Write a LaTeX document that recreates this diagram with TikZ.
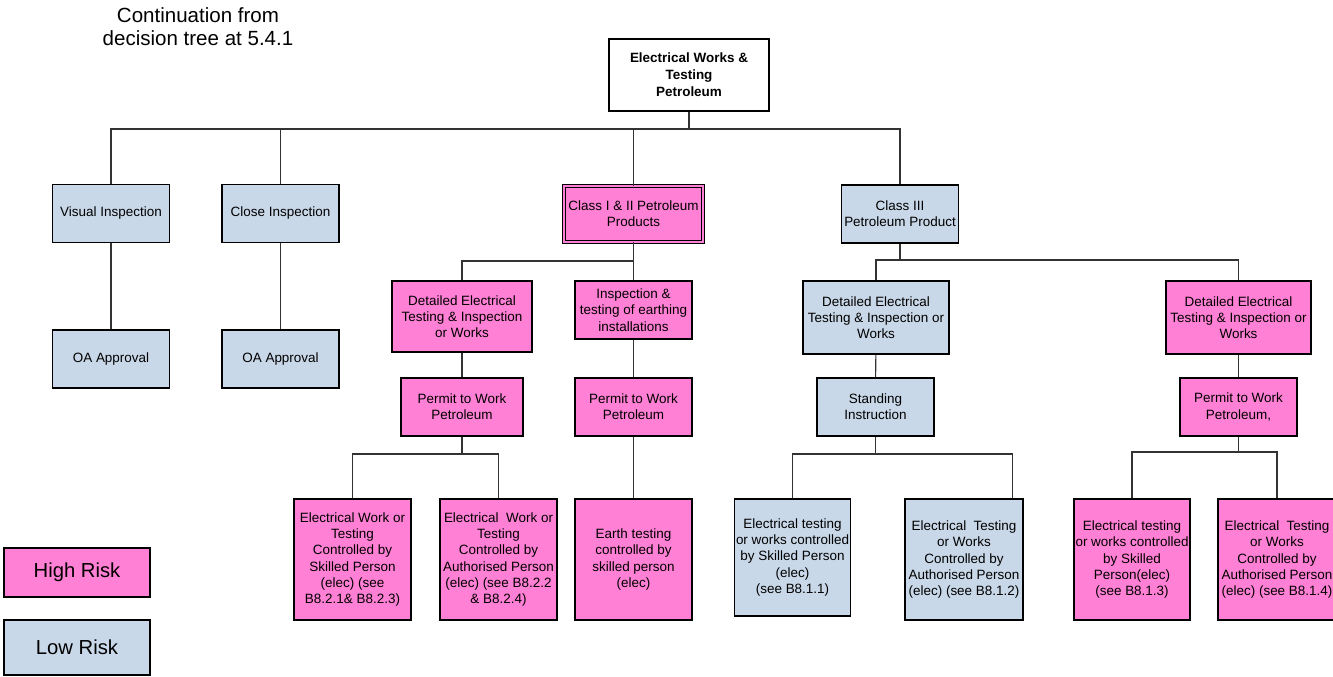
\documentclass[tikz,border=0pt]{standalone}
\usepackage{fontspec}
\setmainfont{Liberation Sans}
\usepackage{tikz}
\usetikzlibrary{calc}
\definecolor{hirisk}{RGB}{255,128,212}
\definecolor{lorisk}{RGB}{201,216,232}
\tikzset{
  box/.style={draw, line width=0.9pt, align=center, inner sep=1pt},
  high/.style={box, fill=hirisk},
  low/.style={box, fill=lorisk},
  sbox/.style={minimum width=87.75pt, minimum height=43.5pt},
  tbox/.style={minimum width=87.75pt, minimum height=90.75pt},
  link/.style={draw=black!80, line width=0.8pt},
}

\begin{document}
\begin{tikzpicture}[x=0.75pt, y=-0.75pt, font=\fontsize{10.1}{12.2}\selectfont]
\useasboundingbox (0,0) rectangle (1333,676);

% title and legend
\node (title) [align=center, font=\fontsize{15.4}{17.25}\selectfont] at (198,27) {Continuation from\\decision tree at 5.4.1};
\node (hi) [high, minimum width=109.5pt, minimum height=36.75pt, font=\fontsize{15.2}{18}\selectfont] at (77,572.5) {High Risk};
\node (lo) [low, minimum width=109.5pt, minimum height=41.25pt, font=\fontsize{15.2}{18}\selectfont] at (77,647.5) {Low Risk};

% top of tree
\node (top) [box, fill=white, minimum width=120pt, minimum height=54pt, font=\fontsize{10.1}{12.75}\selectfont\bfseries] at (689,75) {Electrical Works \&\\Testing\\Petroleum};
\node (vis)  [low, sbox] at (111,213.5) {Visual Inspection};
\node (clo)  [low, sbox] at (280.5,213.5) {Close Inspection};
\node (oa1)  [low, sbox] at (111,359) {OA Approval};
\node (oa2)  [low, sbox] at (280.5,359) {OA Approval};
\node (cls12)[high, sbox, minimum width=104pt, minimum height=41.5pt, double=hirisk, double distance=1.4pt, line width=0.75pt, inner sep=0pt] at (633.5,214) {Class I \& II Petroleum\\Products};
\node (cls3) [low, sbox] at (900,214) {Class III\\Petroleum Product};

% class I & II branch
\node (detA) [high, minimum width=105pt, minimum height=53.25pt] at (462,316.5) {Detailed Electrical\\Testing \& Inspection\\or Works};
\node (insp) [high, sbox] at (633.5,310) {Inspection \&\\testing of earthing\\installations};
\node (ptwA) [high, sbox, minimum width=91.5pt] at (462,407) {Permit to Work\\Petroleum};
\node (ptwB) [high, sbox] at (633.5,407) {Permit to Work\\Petroleum};
\node (skA)  [high, tbox] at (352.5,559.5) {Electrical Work or\\Testing\\Controlled by\\Skilled Person\\(elec) (see\\B8.2.1\& B8.2.3)};
\node (auA)  [high, tbox] at (498.5,559.5) {Electrical\ \ Work or\\Testing\\Controlled by\\Authorised Person\\(elec) (see B8.2.2\\\& B8.2.4)};
\node (eth)  [high, tbox] at (633.5,559.5) {Earth testing\\controlled by\\skilled person\\(elec)};

% class III branch
\node (detB) [low, minimum width=109.5pt, minimum height=54.75pt] at (876,317.5) {Detailed Electrical\\Testing \& Inspection or\\Works};
\node (stand)[low, sbox] at (875.5,407) {Standing\\Instruction};
\node (detC) [high, minimum width=108.75pt, minimum height=54.75pt] at (1238.5,317.5) {Detailed Electrical\\Testing \& Inspection or\\Works};
\node (ptwC) [high, sbox] at (1238.5,407) {Permit to Work\\Petroleum,};
\node (skB)  [low, tbox, minimum width=86.25pt, minimum height=87.75pt] at (792.5,557.5) {Electrical testing\\or works controlled\\by Skilled Person\\(elec)\\(see B8.1.1)};
\node (auB)  [low, tbox, minimum width=88.5pt] at (964,559.5) {Electrical\ \ Testing\\or Works\\Controlled by\\Authorised Person\\(elec) (see B8.1.2)};
\node (skC)  [high, tbox, minimum width=87pt] at (1132,559.5) {Electrical testing\\or works controlled\\by Skilled\\Person(elec)\\(see B8.1.3)};
\node (auC)  [high, tbox, minimum width=88.5pt] at (1277,559.5) {Electrical\ \ Testing\\or Works\\Controlled by\\Authorised Person\\(elec) (see B8.1.4)};

% bus lines
\coordinate (bus0) at (0,129);
\coordinate (bus1) at (0,261);
\coordinate (bus2) at (0,260);
\coordinate (bus3) at (0,454);
\coordinate (bus4) at (0,452);

\draw[link] (top.south) -- (top.south |- bus0);
\draw[link] (vis.north) |- (cls3.north |- bus0) -- (cls3.north);
\draw[link] (clo.north) -- (clo.north |- bus0);
\draw[link] (cls12.north) -- (cls12.north |- bus0);
\draw[link] (vis) -- (oa1);
\draw[link] (clo) -- (oa2);

\draw[link] (cls12.south) -- (insp.north);
\draw[link] (detA.north) |- (cls12.south |- bus1);
\draw[link] (detA) -- (ptwA);
\draw[link] (insp) -- (ptwB);
\draw[link] (ptwB) -- (eth);
\draw[link] (ptwA.south) -- (ptwA.south |- bus3);
\draw[link] (skA.north) |- (auA.north |- bus3) -- (auA.north);

\draw[link] (cls3.south) -- (cls3.south |- bus2);
\draw[link] (detB.north) |- (detC.north |- bus2) -- (detC.north);
\draw[link] (detB) -- (stand);
\draw[link] (detC) -- (ptwC);
\coordinate (auBin) at ($(auB.north east)+(-11,0)$);
\draw[link] (stand.south) -- (stand.south |- bus3);
\draw[link] (skB.north) |- (auBin |- bus3) -- (auBin);
\draw[link] (ptwC.south) -- (ptwC.south |- bus4);
\draw[link] (skC.north) |- (auC.north |- bus4) -- (auC.north);
\end{tikzpicture}
\end{document}
